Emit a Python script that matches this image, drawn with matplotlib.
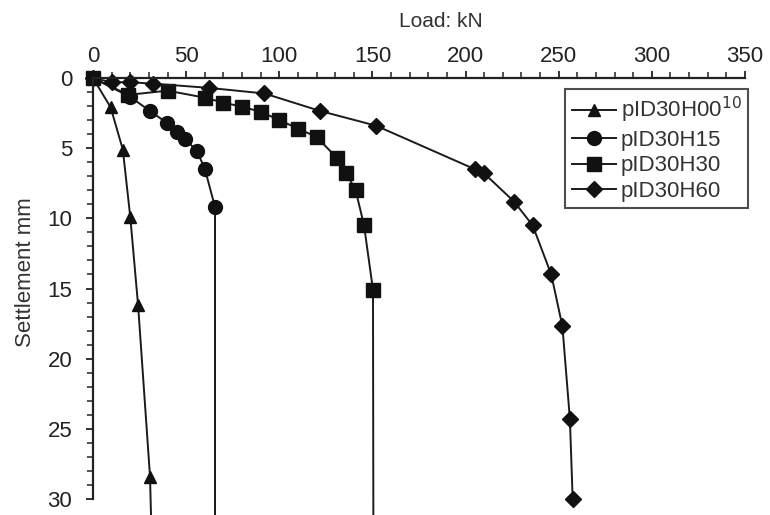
import numpy as np
import matplotlib.pyplot as plt
from matplotlib.ticker import MultipleLocator

plt.rcParams['font.family'] = ['Liberation Sans', 'DejaVu Sans']

# Load (kN) vs settlement (mm) for each pile test
load_h00 = [0, 9.5, 16, 20, 24.2, 30.6, 31.2]
sett_h00 = [0, 2.1, 5.1, 9.9, 16.2, 28.4, 31.5]

load_h15 = [0, 20, 30.6, 39.7, 45, 49.4, 55.8, 60.1, 65.5, 65.5]
sett_h15 = [0, 1.35, 2.35, 3.2, 3.85, 4.35, 5.2, 6.5, 9.2, 31.5]

load_h30 = [0, 19, 40, 60, 70, 80, 90, 100, 110, 120, 131, 136, 141, 145.5, 150.3, 150.5]
sett_h30 = [0, 1.2, 0.9, 1.4, 1.75, 2.05, 2.4, 3.0, 3.6, 4.2, 5.7, 6.8, 8.0, 10.5, 15.1, 31.5]

load_h60 = [0, 10, 20, 32, 62, 92, 122, 152, 205, 210, 226, 236, 246, 252, 256, 257.5]
sett_h60 = [0, 0.3, 0.3, 0.4, 0.7, 1.1, 2.35, 3.4, 6.5, 6.8, 8.8, 10.5, 14.0, 17.7, 24.3, 30.0]

series = [
    (load_h00, sett_h00, '^', 9, 'pID30H00$^{10}$', slice(0, -1)),
    (load_h15, sett_h15, 'o', 10, 'pID30H15', slice(0, -1)),
    (load_h30, sett_h30, 's', 10, 'pID30H30', slice(0, -1)),
    (load_h60, sett_h60, 'D', 8.5, 'pID30H60', None),
]

fig = plt.figure(figsize=(7.7, 5.15), dpi=100)
ax = fig.add_axes([0.1208, 0.0311, 0.8467, 0.8174])

for x, y, m, ms, lab, every in series:
    ax.plot(x, y, color='#1a1a1a', lw=1.4, marker=m, ms=ms, mfc='#111111',
            mec='#111111', markevery=every, label=lab, clip_on=False)

ax.set_xlim(0, 350)
ax.set_ylim(30, 0)
ax.xaxis.tick_top()
ax.xaxis.set_label_position('top')
ax.xaxis.set_major_locator(MultipleLocator(50))
ax.xaxis.set_minor_locator(MultipleLocator(10))
ax.yaxis.set_major_locator(MultipleLocator(5))
ax.yaxis.set_minor_locator(MultipleLocator(1))
ax.tick_params(which='major', direction='out', length=5, width=1.3,
               labelsize=16, colors='#222222')
ax.tick_params(axis='x', which='major', pad=3)
ax.tick_params(axis='y', which='major', pad=10)
ax.tick_params(which='minor', direction='out', length=4, width=1.1, colors='#222222')

for side in ['right', 'bottom']:
    ax.spines[side].set_visible(False)
for side in ['top', 'left']:
    ax.spines[side].set_linewidth(1.6)
    ax.spines[side].set_color('#222222')

ax.set_xlabel('Load: kN', fontsize=15, color='#333333')
ax.xaxis.set_label_coords(0.534, 1.121)
ax.set_ylabel('Settlement mm', fontsize=16, color='#333333')
ax.yaxis.set_label_coords(-0.088, 0.54)

leg = ax.legend(loc='upper right', bbox_to_anchor=(1.005, 0.975), fontsize=16,
                frameon=True, fancybox=False, handlelength=2.0,
                handletextpad=0.2, labelspacing=0.2, borderpad=0.3,
                borderaxespad=0)
leg.get_frame().set_edgecolor('#222222')
leg.get_frame().set_linewidth(1.5)
for t in leg.get_texts():
    t.set_color('#333333')

fig.savefig('out.png', dpi=100)
